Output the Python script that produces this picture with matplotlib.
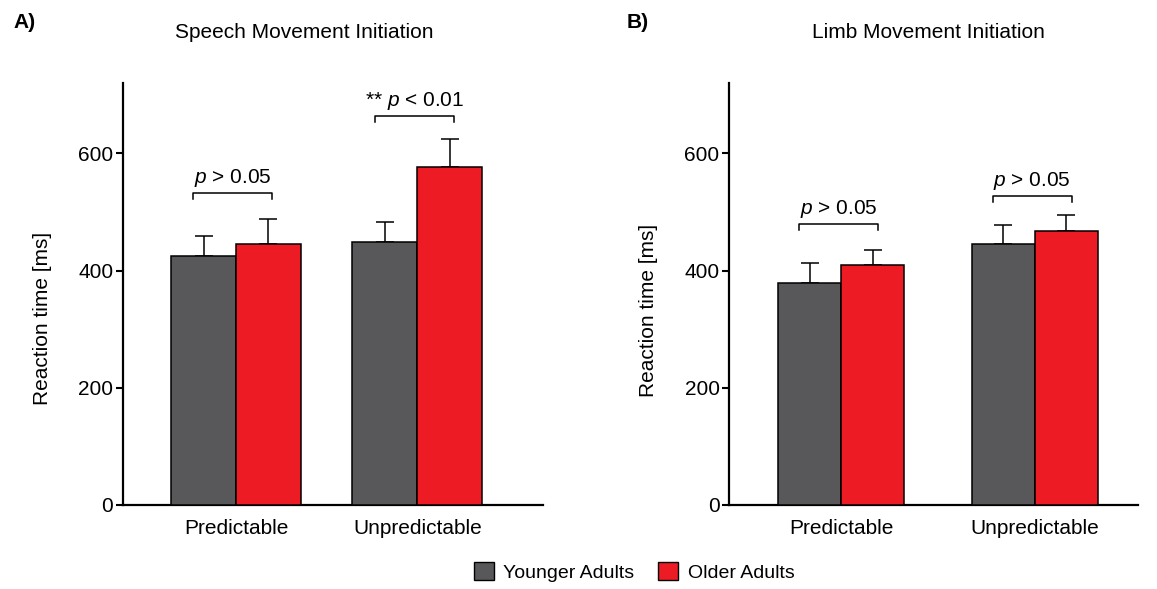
import numpy as np
import matplotlib
matplotlib.use("Agg")
import matplotlib.pyplot as plt
from matplotlib.patches import Patch

plt.rcParams['font.family'] = ['Liberation Sans', 'DejaVu Sans']
plt.rcParams['mathtext.fontset'] = 'custom'
plt.rcParams['mathtext.rm'] = 'Liberation Sans'
plt.rcParams['mathtext.it'] = 'Liberation Sans:italic'

# ---- data ----
categories = ["Predictable", "Unpredictable"]
groups = ["Younger Adults", "Older Adults"]

speech_younger = [425, 448]
speech_younger_err = [34, 34]
speech_older = [446, 577]
speech_older_err = [42, 47]

limb_younger = [379, 446]
limb_younger_err = [34, 31]
limb_older = [409, 468]
limb_older_err = [26, 27]

speech_pvals = [r"$\mathit{p}$ > 0.05", r"** $\mathit{p}$ < 0.01"]
limb_pvals = [r"$\mathit{p}$ > 0.05", r"$\mathit{p}$ > 0.05"]
speech_bracket_y = [532, 664]
limb_bracket_y = [480, 527]

yticks = [0, 200, 400, 600]
titles = ["Speech Movement Initiation", "Limb Movement Initiation"]
panel_labels = ["A)", "B)"]

GRAY = "#58585A"
RED = "#ED1C24"
FS = 15

W, H = 1157, 589
fig = plt.figure(figsize=(W / 100, H / 100), dpi=100)

panels = [
    dict(rect=[123 / W, (H - 505) / H, 420 / W, 422 / H], width=0.358,
         xlim=(-0.623, 1.693), br=(-0.235, 0.2),
         y=speech_younger, ye=speech_younger_err, o=speech_older, oe=speech_older_err,
         pv=speech_pvals, by=speech_bracket_y, title=titles[0], tx=304, lab=panel_labels[0], lx=13,
         ylab=(-0.169, 0.443)),
    dict(rect=[729.3 / W, (H - 505) / H, 408.7 / W, 422 / H], width=0.325,
         xlim=(-0.577, 1.533), br=(-0.215, 0.19),
         y=limb_younger, ye=limb_younger_err, o=limb_older, oe=limb_older_err,
         pv=limb_pvals, by=limb_bracket_y, title=titles[1], tx=928, lab=panel_labels[1], lx=627,
         ylab=(-0.174, 0.462)),
]

x = np.arange(len(categories))
for p in panels:
    ax = fig.add_axes(p["rect"])
    w = p["width"]
    ax.bar(x - w / 2, p["y"], w, color=GRAY, edgecolor="black", linewidth=1.1, zorder=3)
    ax.bar(x + w / 2, p["o"], w, color=RED, edgecolor="black", linewidth=1.1, zorder=3)
    ax.errorbar(x - w / 2, p["y"], yerr=[np.zeros(len(x)), p["ye"]], fmt="none",
                ecolor="black", elinewidth=1.1, capsize=6.8, capthick=1.1, zorder=2)
    ax.errorbar(x + w / 2, p["o"], yerr=[np.zeros(len(x)), p["oe"]], fmt="none",
                ecolor="black", elinewidth=1.1, capsize=6.8, capthick=1.1, zorder=2)
    for xi, by, txt in zip(x, p["by"], p["pv"]):
        x0, x1 = xi + p["br"][0], xi + p["br"][1]
        ax.plot([x0, x0, x1, x1], [by - 10, by, by, by - 10], color="black", lw=1.1,
                clip_on=False)
        ax.text((x0 + x1) / 2, by + 17, txt, ha="center", va="baseline", fontsize=FS)
    ax.set_xlim(*p["xlim"])
    ax.set_ylim(0, 720)
    ax.set_yticks(yticks)
    ax.set_xticks(x)
    ax.set_xticklabels(categories, fontsize=FS)
    ax.tick_params(axis="x", length=0, pad=10)
    ax.tick_params(axis="y", length=5, width=1.5, pad=2, labelsize=FS)
    for s in ["top", "right"]:
        ax.spines[s].set_visible(False)
    for s in ["left", "bottom"]:
        ax.spines[s].set_linewidth(1.6)
    ax.set_ylabel("Reaction time [ms]", fontsize=FS)
    ax.yaxis.set_label_coords(*p["ylab"])
    fig.text(p["tx"] / W, 1 - 32 / H, p["title"], ha="center", va="center", fontsize=FS)
    fig.text(p["lx"] / W, 1 - 22 / H, p["lab"], ha="left", va="center", fontsize=FS,
             fontweight="bold")

handles = [Patch(facecolor=GRAY, edgecolor="black", label=groups[0]),
           Patch(facecolor=RED, edgecolor="black", label=groups[1])]
fig.legend(handles=handles, loc="center", bbox_to_anchor=(634 / W, 1 - 572 / H), ncol=2,
           frameon=False, fontsize=14, handlelength=1.03, handleheight=1.03,
           handletextpad=0.48, columnspacing=1.24)

fig.savefig("out.png", dpi=100)
